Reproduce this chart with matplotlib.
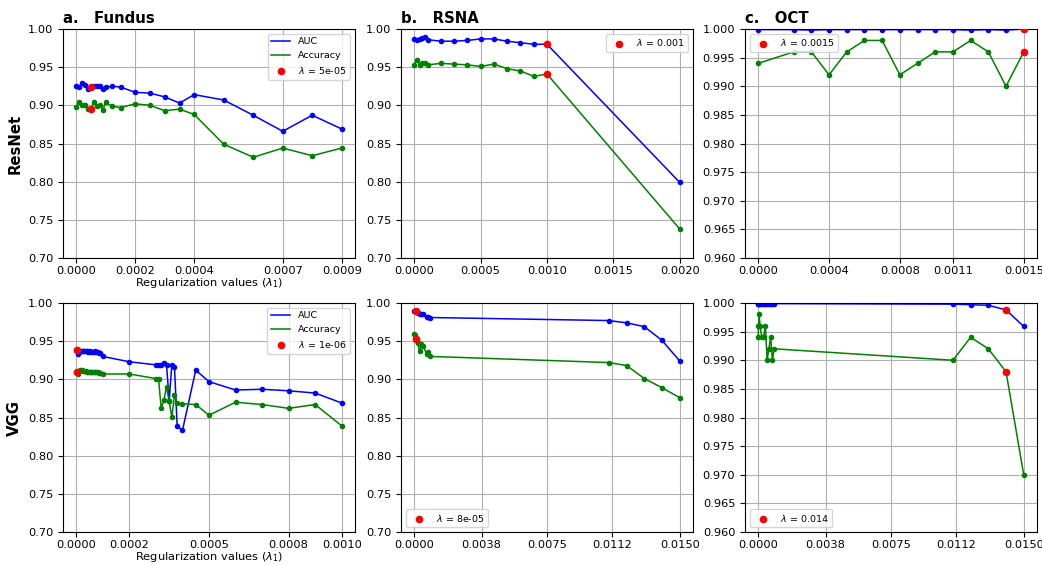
import matplotlib
matplotlib.use("Agg")
import matplotlib.pyplot as plt
from matplotlib.ticker import FormatStrFormatter
import numpy as np

# ---------------- data ----------------
# Fundus / ResNet
fr_x = [0, 1e-5, 2e-5, 3e-5, 4e-5, 5e-5, 6e-5, 7e-5, 8e-5, 9e-5, 1e-4, 1.2e-4, 1.5e-4,
        2e-4, 2.5e-4, 3e-4, 3.5e-4, 4e-4, 5e-4, 6e-4, 7e-4, 8e-4, 9e-4]
fr_auc = [0.925, 0.924, 0.929, 0.927, 0.922, 0.924, 0.925, 0.925, 0.925, 0.922, 0.924, 0.925, 0.924,
          0.917, 0.916, 0.911, 0.903, 0.914, 0.907, 0.887, 0.866, 0.887, 0.869]
fr_acc = [0.898, 0.904, 0.900, 0.901, 0.895, 0.895, 0.905, 0.899, 0.900, 0.894, 0.904, 0.899, 0.897,
          0.902, 0.900, 0.893, 0.895, 0.888, 0.849, 0.832, 0.844, 0.834, 0.844]
fr_lambda = 5e-05

# RSNA / ResNet
rr_x = [0, 2e-5, 4e-5, 6e-5, 8e-5, 1e-4, 2e-4, 3e-4, 4e-4, 5e-4, 6e-4, 7e-4, 8e-4, 9e-4, 1e-3, 2e-3]
rr_auc = [0.987, 0.986, 0.987, 0.988, 0.989, 0.986, 0.984, 0.984, 0.985, 0.987, 0.987, 0.984, 0.982,
          0.980, 0.980, 0.799]
rr_acc = [0.953, 0.960, 0.953, 0.955, 0.955, 0.953, 0.955, 0.954, 0.953, 0.951, 0.954, 0.948, 0.945,
          0.938, 0.941, 0.738]
rr_lambda = 0.001

# OCT / ResNet
or_x = [0, 2e-4, 3e-4, 4e-4, 5e-4, 6e-4, 7e-4, 8e-4, 9e-4, 1e-3, 1.1e-3, 1.2e-3, 1.3e-3, 1.4e-3, 1.5e-3]
or_auc = [0.9999, 0.9999, 0.9998, 0.9999, 0.9999, 0.9999, 0.9999, 0.9999, 0.9999, 0.9999, 0.9999,
          0.9998, 0.9999, 0.9998, 1.0]
or_acc = [0.994, 0.996, 0.996, 0.992, 0.996, 0.998, 0.998, 0.992, 0.994, 0.996, 0.996, 0.998, 0.996,
          0.990, 0.996]
or_lambda = 0.0015

# Fundus / VGG
fv_x = [0, 1e-6, 5e-6, 1e-5, 1.5e-5, 2e-5, 2.5e-5, 3e-5, 3.5e-5, 4e-5, 4.5e-5, 5e-5, 5.5e-5, 6e-5,
        6.5e-5, 7e-5, 7.5e-5, 8e-5, 8.5e-5, 9e-5, 1e-4, 2e-4, 3e-4, 3.1e-4, 3.2e-4, 3.3e-4, 3.4e-4,
        3.5e-4, 3.6e-4, 3.7e-4, 3.8e-4, 4e-4, 4.5e-4, 5e-4, 6e-4, 7e-4, 8e-4, 9e-4, 1e-3]
fv_auc = [0.938, 0.938, 0.933, 0.936, 0.937, 0.937, 0.937, 0.937, 0.937, 0.937, 0.936, 0.937, 0.936,
          0.936, 0.936, 0.937, 0.936, 0.936, 0.935, 0.934, 0.930, 0.923, 0.919, 0.919, 0.919, 0.921,
          0.919, 0.872, 0.919, 0.916, 0.839, 0.833, 0.912, 0.897, 0.886, 0.887, 0.885, 0.882, 0.869]
fv_acc = [0.910, 0.910, 0.907, 0.911, 0.912, 0.912, 0.911, 0.911, 0.911, 0.910, 0.910, 0.910, 0.909,
          0.909, 0.910, 0.910, 0.909, 0.909, 0.908, 0.908, 0.907, 0.907, 0.901, 0.900, 0.862, 0.873,
          0.890, 0.871, 0.851, 0.879, 0.869, 0.868, 0.867, 0.853, 0.870, 0.867, 0.862, 0.867, 0.839]
fv_lambda = 1e-06

# RSNA / VGG
rv_x = [0, 2e-5, 8e-5, 1.5e-4, 2e-4, 3e-4, 4e-4, 5e-4, 7e-4, 7.5e-4, 9e-4, 0.011, 0.012, 0.013, 0.014, 0.015]
rv_auc = [0.990, 0.990, 0.990, 0.988, 0.987, 0.985, 0.986, 0.985, 0.982, 0.982, 0.981, 0.977, 0.974,
          0.969, 0.951, 0.924]
rv_acc = [0.960, 0.958, 0.953, 0.951, 0.947, 0.937, 0.946, 0.944, 0.933, 0.936, 0.930, 0.922, 0.918,
          0.901, 0.889, 0.876]
rv_lambda = 8e-05

# OCT / VGG
ov_x = [0, 1e-5, 5e-5, 1e-4, 2e-4, 3e-4, 4e-4, 5e-4, 6e-4, 7e-4, 8e-4, 9e-4, 0.011, 0.012, 0.013, 0.014, 0.015]
ov_auc = [0.9999, 0.9999, 0.9999, 0.9999, 0.9999, 0.9999, 0.9999, 0.9999, 0.9999, 0.9999, 0.9999,
          0.9999, 0.9998, 0.9997, 0.9996, 0.9988, 0.9959]
ov_acc = [0.994, 0.996, 0.998, 0.996, 0.994, 0.994, 0.996, 0.990, 0.992, 0.994, 0.990, 0.992, 0.990,
          0.994, 0.992, 0.988, 0.970]
ov_lambda = 0.014

titles = ["a.   Fundus", "b.   RSNA", "c.   OCT"]
row_labels = ["ResNet", "VGG"]
xticks_list = [
    [0.0, 0.0002, 0.0004, 0.0007, 0.0009],
    [0.0, 0.0005, 0.0010, 0.0015, 0.0020],
    [0.0, 0.0004, 0.0008, 0.0011, 0.0015],
    [0.0, 0.0002, 0.0005, 0.0008, 0.0010],
    [0.0, 0.0038, 0.0075, 0.0112, 0.0150],
    [0.0, 0.0038, 0.0075, 0.0112, 0.0150],
]
ylims = [(0.70, 1.00), (0.70, 1.00), (0.960, 1.000)] * 2
ystep = [0.05, 0.05, 0.005] * 2
yfmt = ["%.2f", "%.2f", "%.3f"] * 2
legend_locs = ["upper right", "upper right", "upper left",
               "upper right", "lower left", "lower left"]

panels = [
    (fr_x, fr_auc, fr_acc, fr_lambda),
    (rr_x, rr_auc, rr_acc, rr_lambda),
    (or_x, or_auc, or_acc, or_lambda),
    (fv_x, fv_auc, fv_acc, fv_lambda),
    (rv_x, rv_auc, rv_acc, rv_lambda),
    (ov_x, ov_auc, ov_acc, ov_lambda),
]

# ---------------- figure ----------------
W, H = 1042, 565
fig = plt.figure(figsize=(W / 100, H / 100), dpi=100)
lefts = [63, 401, 745]
tops = [29, 303]
aw, ah = 292, 229

for i, (x, auc, acc, lam) in enumerate(panels):
    r, c = divmod(i, 3)
    ax = fig.add_axes([lefts[c] / W, 1 - (tops[r] + ah) / H, aw / W, ah / H])
    first_col = (c == 0)
    ax.plot(x, auc, color="blue", lw=1.1, label="AUC" if first_col else None, zorder=2)
    ax.plot(x, auc, "o", color="blue", ms=3.0, zorder=2)
    ax.plot(x, acc, color="green", lw=1.1, label="Accuracy" if first_col else None, zorder=2)
    ax.plot(x, acc, "o", color="green", ms=3.0, zorder=2)
    k = x.index(lam)
    ax.scatter([x[k], x[k]], [auc[k], acc[k]], color="red", s=20, zorder=3,
               label=r"$\lambda$ = " + str(lam))
    lo, hi = ylims[i]
    ax.set_ylim(lo, hi)
    ax.set_yticks(np.arange(lo, hi + ystep[i] / 2, ystep[i]))
    ax.yaxis.set_major_formatter(FormatStrFormatter(yfmt[i]))
    ax.set_xticks(xticks_list[i])
    ax.xaxis.set_major_formatter(FormatStrFormatter("%.4f"))
    ax.tick_params(labelsize=8.2)
    ax.tick_params(axis="x", pad=2.5)
    ax.grid(True, color="#b0b0b0", lw=0.8)
    ax.set_axisbelow(True)
    ax.legend(loc=legend_locs[i], fontsize=6.8)
    if r == 0:
        ax.set_title(titles[c], loc="left", fontsize=10.7, fontweight="bold", pad=4)
    if first_col:
        ax.set_ylabel(row_labels[r], fontsize=10.7, fontweight="bold")
        ax.set_xlabel(r"Regularization values ($\lambda_1$)", fontsize=8.2, labelpad=0)

fig.savefig("out.png", dpi=100)
